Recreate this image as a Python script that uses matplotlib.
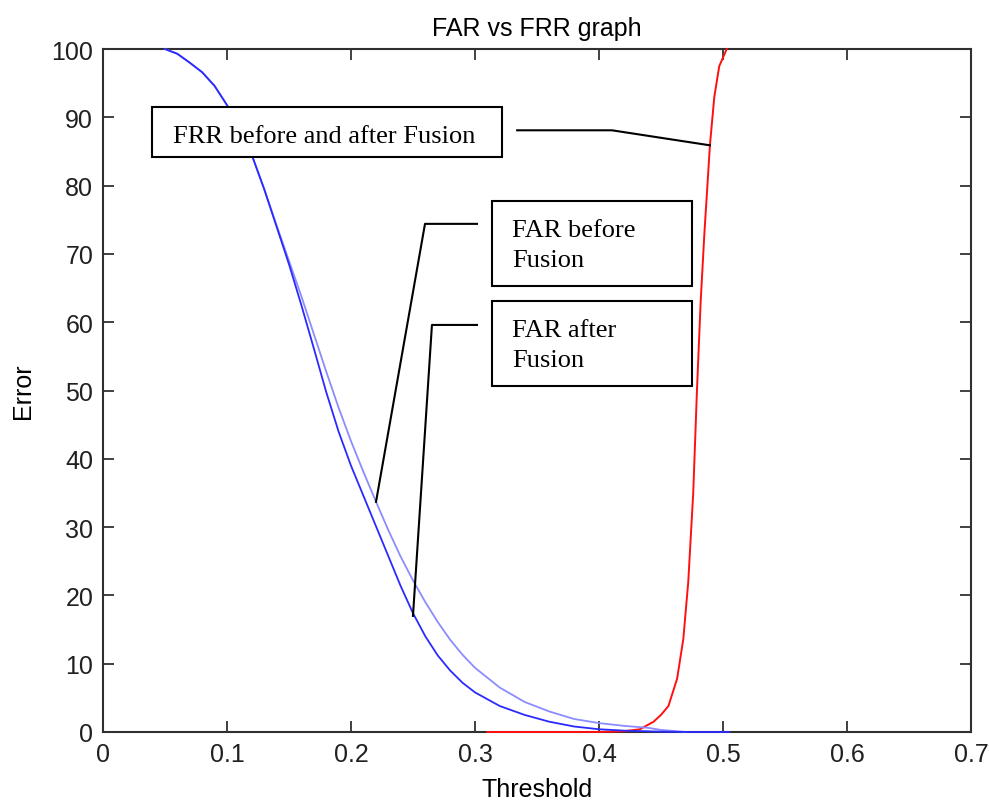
import matplotlib
matplotlib.use("Agg")
import matplotlib.pyplot as plt
from matplotlib.patches import Rectangle

# FAR after fusion (darker blue)
thr_after = [0.05, 0.06, 0.07, 0.08, 0.09, 0.10, 0.11, 0.12, 0.13, 0.14,
             0.15, 0.16, 0.17, 0.18, 0.19, 0.20, 0.21, 0.22, 0.23, 0.24, 0.25,
             0.26, 0.27, 0.28, 0.29, 0.30, 0.32, 0.34, 0.36, 0.38, 0.40, 0.42,
             0.45, 0.47, 0.505]
far_after = [100, 99.3, 98, 96.6, 94.6, 91.8, 88.3, 84.5, 79.5, 74,
             68.5, 62.5, 56.2, 49.8, 44, 39, 34.6, 30.2, 25.8, 21.4, 17.4,
             14, 11.2, 9, 7.2, 5.8, 3.8, 2.5, 1.5, 0.8, 0.4, 0.2,
             0.05, 0, 0]

# FAR before fusion (lighter blue)
thr_before = [0.05, 0.06, 0.07, 0.08, 0.09, 0.10, 0.11, 0.12, 0.13, 0.14,
              0.15, 0.16, 0.17, 0.18, 0.19, 0.20, 0.21, 0.22, 0.23, 0.24, 0.25,
              0.26, 0.27, 0.28, 0.29, 0.30, 0.32, 0.34, 0.36, 0.38, 0.40, 0.42,
              0.44, 0.45, 0.47]
far_before = [100, 99.3, 98, 96.6, 94.6, 91.8, 88.3, 84.5, 79.5, 74.2,
              69, 63.8, 58.3, 52.8, 47.5, 42.6, 38.1, 33.8, 29.6, 25.7, 22.2,
              19, 16.1, 13.5, 11.3, 9.4, 6.5, 4.4, 3.0, 1.9, 1.3, 0.9,
              0.6, 0.3, 0]

# FRR before and after fusion (red)
thr_frr = [0.31, 0.40, 0.42, 0.433, 0.444, 0.45, 0.456, 0.463, 0.468, 0.472,
           0.476, 0.479, 0.482, 0.485, 0.4895, 0.493, 0.497, 0.503]
frr = [0, 0, 0.1, 0.4, 1.5, 2.5, 3.8, 7.8, 13.6, 22,
       35, 50, 63, 73, 86, 93, 97.5, 100]

xticks = [0, 0.1, 0.2, 0.3, 0.4, 0.5, 0.6, 0.7]
yticks = [0, 10, 20, 30, 40, 50, 60, 70, 80, 90, 100]

plt.rcParams['font.family'] = ['Liberation Sans', 'DejaVu Sans']

fig = plt.figure(figsize=(9.89, 8.03), dpi=100)
ax = fig.add_axes([0.1041, 0.0872, 0.8777, 0.8505])

# curves sit on the axis lines at 0 and 100, so draw them unclipped on top
ax.plot(thr_frr, frr, color='#ff1010', lw=1.4, zorder=3, clip_on=False)
ax.plot(thr_before, far_before, color='#8c8cff', lw=1.3, zorder=3, clip_on=False)
ax.plot(thr_after, far_after, color='#2a2aff', lw=1.3, zorder=3, clip_on=False)

ax.set_xlim(0, 0.7)
ax.set_ylim(0, 100)
ax.set_xticks(xticks)
ax.set_xticklabels(['0', '0.1', '0.2', '0.3', '0.4', '0.5', '0.6', '0.7'])
ax.set_yticks(yticks)
ax.tick_params(direction='in', length=8, width=1.2, top=True, right=True,
               labelsize=18, colors='#202020', pad=7)
for s in ax.spines.values():
    s.set_linewidth(1.5)
    s.set_color('#303030')

ax.set_title('FAR vs FRR graph', fontsize=18, pad=10)
ax.set_xlabel('Threshold', fontsize=18, labelpad=8)
ax.set_ylabel('Error', fontsize=18, labelpad=12)

# callout boxes
serif = ['Liberation Serif', 'DejaVu Serif']
boxes = [
    (0.0395, 84.2, 0.2823, 7.3),
    (0.3137, 65.3, 0.1613, 12.4),
    (0.3137, 50.7, 0.1613, 12.4),
]
for x0, y0, w, h in boxes:
    ax.add_patch(Rectangle((x0, y0), w, h, fill=True, facecolor='white',
                           edgecolor='black', lw=1.5, zorder=5))

labels = [
    (0.0565, 86.4, 'FRR before and after Fusion'),
    (0.33, 72.6, 'FAR before'),
    (0.33, 68.2, 'Fusion'),
    (0.33, 58.0, 'FAR after'),
    (0.33, 53.6, 'Fusion'),
]
for x, y, s in labels:
    ax.text(x, y, s, family=serif, fontsize=19, va='baseline', ha='left', zorder=6)

# leader lines
ax.plot([0.334, 0.4105, 0.4895], [88.1, 88.1, 85.9], color='black', lw=1.5, zorder=6)
ax.plot([0.3016, 0.2597, 0.2202], [74.4, 74.4, 33.7], color='black', lw=1.5, zorder=6)
ax.plot([0.3016, 0.2653, 0.25], [59.6, 59.6, 17.0], color='black', lw=1.5, zorder=6)

fig.savefig('out.png', dpi=100)
